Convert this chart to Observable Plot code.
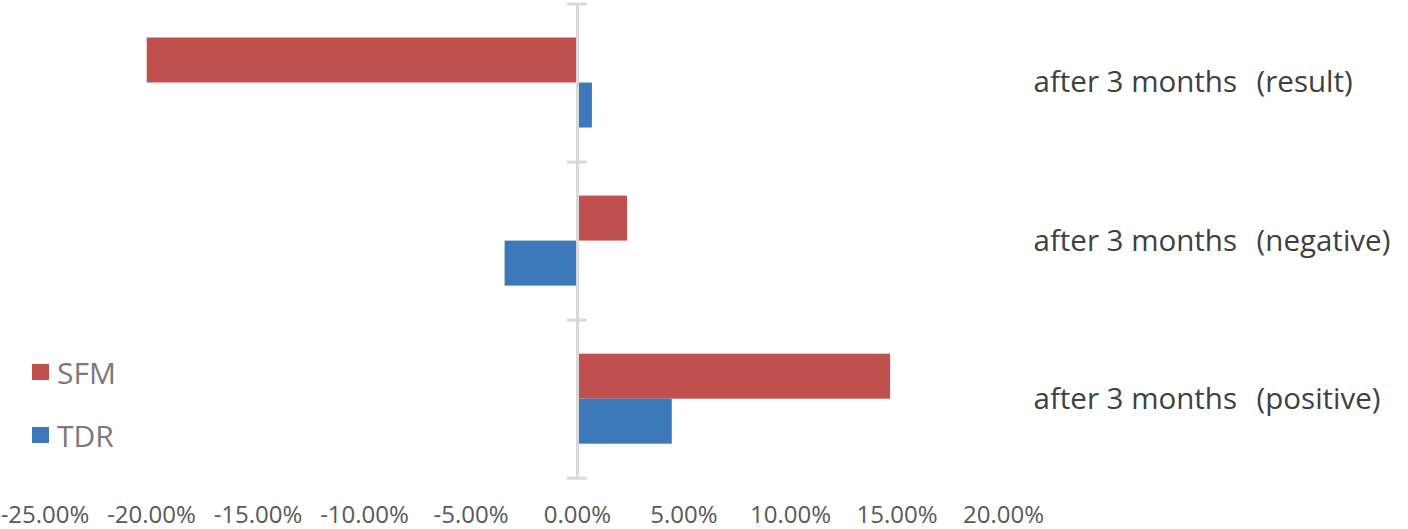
<!DOCTYPE html>
<html>
<head>
<meta charset="utf-8">
<script src="https://cdn.jsdelivr.net/npm/d3@7"></script>
<script src="https://cdn.jsdelivr.net/npm/@observablehq/plot@0.6"></script>
<style>
  html, body { margin: 0; padding: 0; background: #fff; }
  #wrap { position: relative; width: 1408px; height: 529px; overflow: hidden; }
  #legend { position: absolute; left: 32px; top: 352px; font-family: "Open Sans", "Noto Sans", sans-serif; font-size: 30px; color: #7a7a7a; }
  .item { display: flex; align-items: center; height: 40px; margin-bottom: 23px; }
  .sw { width: 17px; height: 16px; margin-right: 8px; }
</style>
</head>
<body>
<div id="wrap"></div>
<script>
const categories = ["after 3 months\u2002\u2009(result)", "after 3 months\u2002\u2009(negative)", "after 3 months\u2002\u2009(positive)"];
const seriesNames = ["SFM", "TDR"];
const sfmValues = [-20.2, 2.35, 14.7];
const tdrValues = [0.7, -3.4, 4.45];
const xTicks = [-25, -20, -15, -10, -5, 0, 5, 10, 15, 20];
const colors = ["#C0504D", "#3C78BA"];

const rows = [];
categories.forEach((c, i) => {
  rows.push({cat: c, i, series: "SFM", value: sfmValues[i]});
  rows.push({cat: c, i, series: "TDR", value: tdrValues[i]});
});

const BAR = 0.2847; // bar thickness as fraction of category band
const font = '"Open Sans", "Noto Sans", sans-serif';

const chart = Plot.plot({
  width: 1408,
  height: 529,
  marginLeft: 44.5,
  marginRight: 405,
  marginTop: 3.5,
  marginBottom: 51.3,
  style: {fontFamily: font, background: "transparent"},
  x: {domain: [-25, 20], ticks: xTicks, tickFormat: d => d.toFixed(2) + "%", label: null},
  y: {domain: [0, categories.length], reverse: true, axis: null},
  color: {domain: seriesNames, range: colors},
  marks: [
    Plot.rectX(rows, {
      x1: 0, x2: "value",
      y1: d => d.i + 0.5 - (d.series === "SFM" ? BAR : 0),
      y2: d => d.i + 0.5 + (d.series === "TDR" ? BAR : 0),
      fill: "series"
    }),
    Plot.ruleX([0], {y1: 0, y2: categories.length, stroke: "#D9D9D9", strokeWidth: 3}),
    Plot.ruleY(d3.range(categories.length + 1), {x1: -0.47, x2: 0.47, stroke: "#D9D9D9", strokeWidth: 3}),
    Plot.text(categories, {y: (d, i) => i + 0.5, text: d => d, frameAnchor: "right", textAnchor: "start", dx: 30, fontSize: 29.5, fill: "#404040"}),
    Plot.axisX({ticks: xTicks, tickFormat: d => d.toFixed(2) + "%", tickSize: 0, tickPadding: 28, fontSize: 24, color: "#595959", label: null})
  ]
});

const wrap = document.getElementById("wrap");
wrap.appendChild(chart);
const legend = document.createElement("div");
legend.id = "legend";
seriesNames.forEach((s, k) => {
  const it = document.createElement("div");
  it.className = "item";
  const sw = document.createElement("span");
  sw.className = "sw";
  sw.style.background = colors[k];
  const t = document.createElement("span");
  t.textContent = s;
  it.appendChild(sw); it.appendChild(t);
  legend.appendChild(it);
});
wrap.appendChild(legend);
</script>
</body>
</html>
